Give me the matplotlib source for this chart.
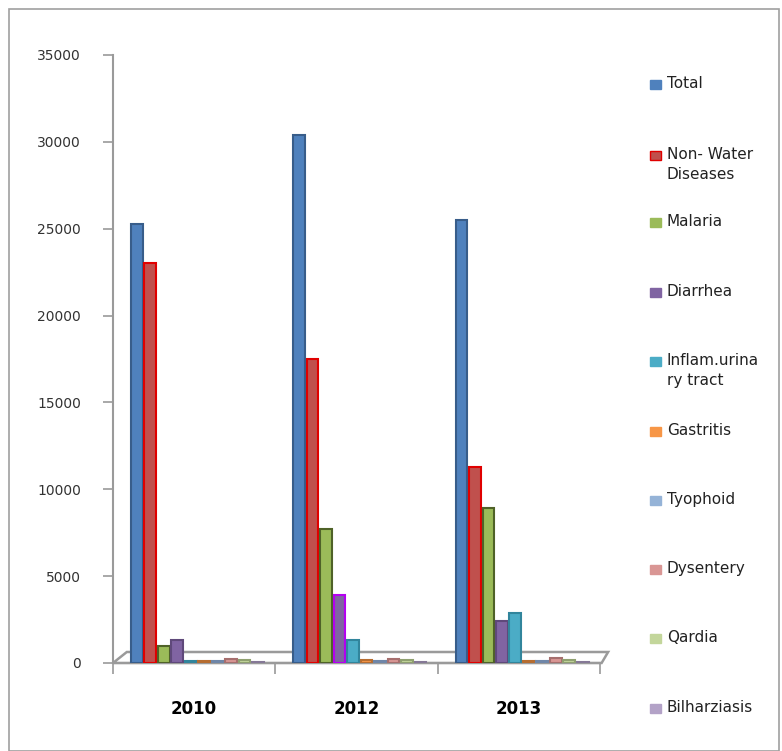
import matplotlib
matplotlib.use("Agg")
import matplotlib.pyplot as plt
from matplotlib.patches import Rectangle, Polygon
import numpy as np

years = ["2010", "2012", "2013"]
series = ["Total", "Non- Water\nDiseases", "Malaria", "Diarrhea", "Inflam.urina\nry tract",
          "Gastritis", "Tyophoid", "Dysentery", "Qardia", "Bilharziasis"]
total = [25300, 30400, 25500]
non_water = [23000, 17500, 11300]
malaria = [1000, 7700, 8900]
diarrhea = [1300, 3900, 2400]
inflam = [100, 1300, 2900]
gastritis = [100, 150, 100]
tyophoid = [100, 100, 100]
dysentery = [250, 250, 300]
qardia = [200, 200, 200]
bilharziasis = [80, 80, 80]
values = [total, non_water, malaria, diarrhea, inflam, gastritis, tyophoid, dysentery, qardia, bilharziasis]

colors = ["#4F81BD", "#C0504D", "#9BBB59", "#8064A2", "#4BACC6",
          "#F79646", "#95B3D7", "#D99694", "#C3D69B", "#B3A2C7"]
edges = ["#385D8A", "#E00000", "#4F6228", "#5F497A", "#31859C",
         "#B66D31", "#6F86A8", "#A66F6E", "#8FA070", "#857896"]

W, H = 782, 751
fig = plt.figure(figsize=(W / 100, H / 100), dpi=100)
fig.patch.set_facecolor("white")
fig.add_artist(Rectangle((9 / W, 0.0), (779 - 9) / W, 1 - 9 / H, transform=fig.transFigure,
                         fill=False, edgecolor="#A0A0A0", linewidth=1.2))

ax = fig.add_axes([113 / W, 1 - 663 / H, (600 - 113) / W, (663 - 55) / H])
ax.set_xlim(-0.5, 2.5)
ax.set_ylim(0, 35000)

# 3D-like floor
dy = 11 * 35000 / 608
floor = Polygon([(-0.5, 0), (2.5 + 0.01, 0), (2.5 + 0.05, dy), (-0.5 + 0.085, dy)],
                closed=True, facecolor="white", edgecolor="#9A9A9A", linewidth=1.8, zorder=1,
                clip_on=False)
ax.add_patch(floor)

x = np.arange(len(years))
step = 0.083
bw = 0.072
for j, (name, vals) in enumerate(zip(series, values)):
    ec = [edges[j]] * len(years)
    if j == 3:
        ec[1] = "#B400F0"
    ax.bar(x + (j - 4.5) * step + 0.02, vals, width=bw, color=colors[j], edgecolor=ec,
           linewidth=1.5, zorder=3)

for s in ["top", "right"]:
    ax.spines[s].set_visible(False)
ax.spines["left"].set_color("#9A9A9A")
ax.spines["left"].set_linewidth(1.5)
ax.spines["bottom"].set_color("#9A9A9A")
ax.spines["bottom"].set_linewidth(1.5)

ax.set_yticks(np.arange(0, 35001, 5000))
ax.set_yticklabels([str(v) for v in range(0, 35001, 5000)], fontsize=10, color="#333333")
ax.tick_params(axis="y", length=7, color="#9A9A9A", width=1.2, pad=16)
ax.set_xticks([-0.5, 0.5, 1.5, 2.5], minor=False)
ax.set_xticklabels([])
ax.tick_params(axis="x", length=8, color="#9A9A9A", width=1.2, direction="out")
ax.set_xticks(x, minor=True)
ax.set_xticklabels(years, minor=True, fontsize=12, fontweight="bold")
ax.tick_params(axis="x", which="minor", length=0, pad=27)

# legend
ys = [84, 155, 222, 292, 361, 431, 500, 569, 638, 708]
for j, name in enumerate(series):
    yy = ys[j]
    fig.add_artist(Rectangle((650 / W, 1 - (yy + 5) / H), 11 / W, 9 / H, transform=fig.transFigure,
                             facecolor=colors[j], edgecolor=edges[j] if j == 1 else colors[j], linewidth=1))
    fig.text(667 / W, 1 - (yy - 8) / H, name, fontsize=11, va="top", ha="left", color="#222222",
             linespacing=1.45, transform=fig.transFigure)

fig.savefig("out.png", dpi=100)
